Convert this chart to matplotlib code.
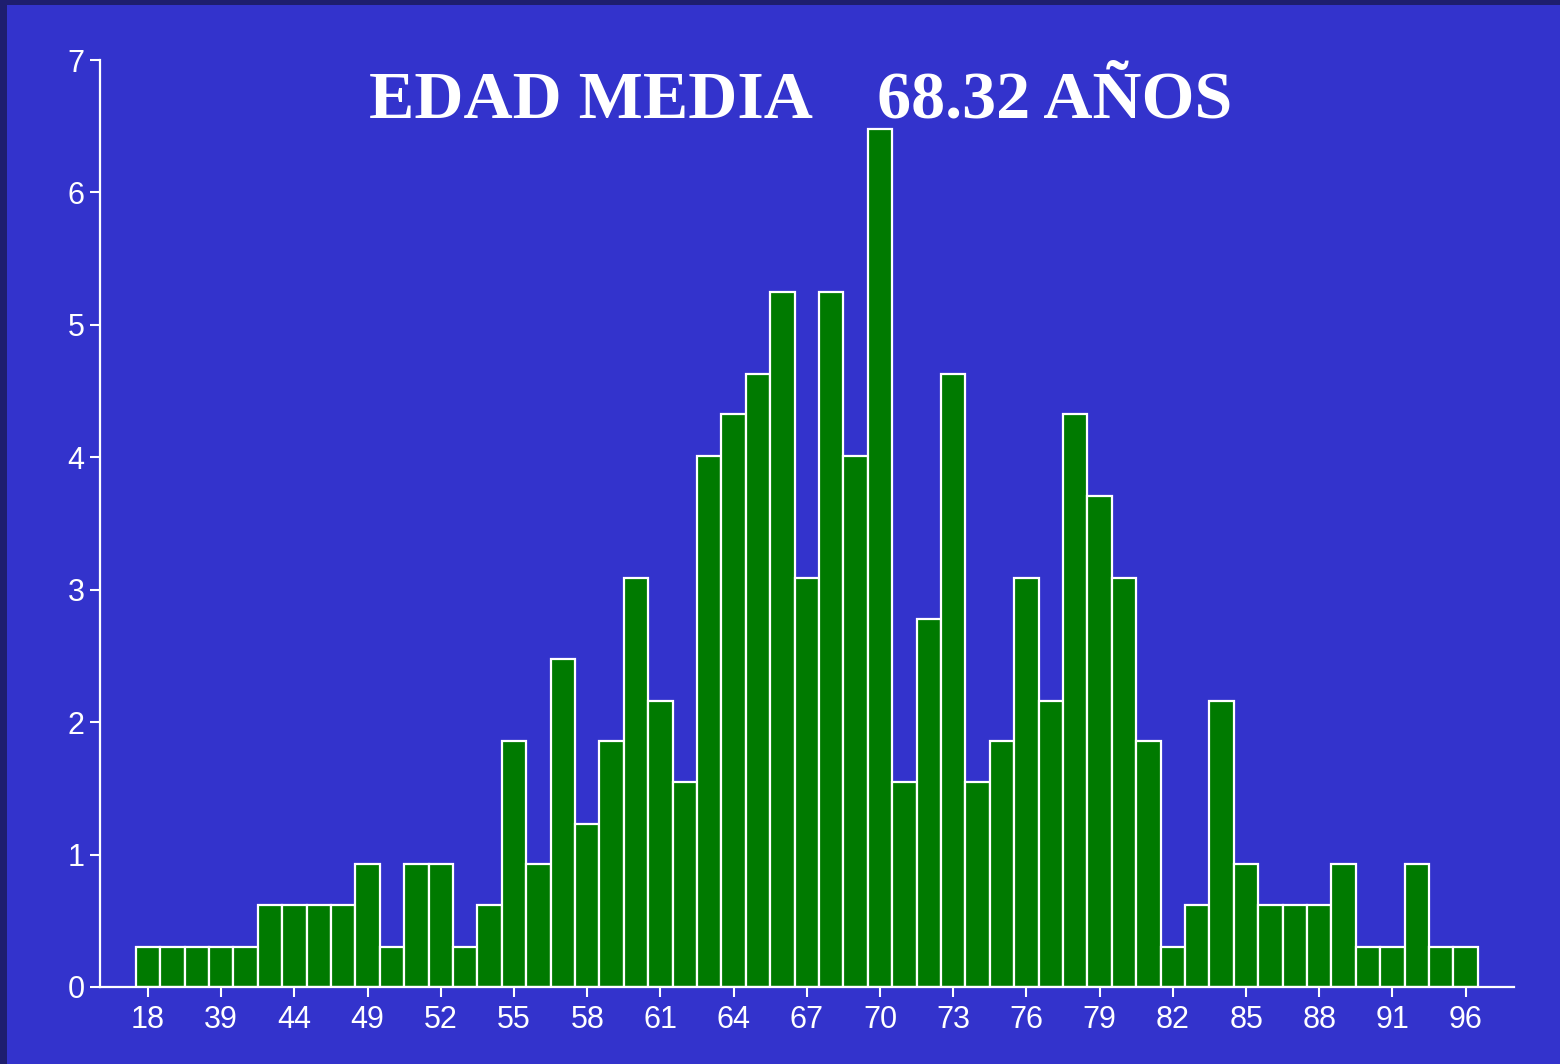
import matplotlib.pyplot as plt
from matplotlib.patches import Rectangle

# ages (only every third one is labelled on the axis)
edades = [18, 27, 34, 39, 41, 43, 44, 45, 47, 49, 50, 51, 52, 53, 54,
          55, 56, 57, 58, 59, 60, 61, 62, 63, 64, 65, 66, 67, 68, 69,
          70, 71, 72, 73, 74, 75, 76, 77, 78, 79, 80, 81, 82, 83, 84,
          85, 86, 87, 88, 89, 90, 91, 92, 93, 96]
# percentage of patients per age
porcentaje = [0.30, 0.30, 0.30, 0.30, 0.30, 0.62, 0.62, 0.62, 0.62, 0.93,
              0.30, 0.93, 0.93, 0.30, 0.62, 1.86, 0.93, 2.48, 1.23, 1.86,
              3.09, 2.16, 1.55, 4.01, 4.33, 4.63, 5.25, 3.09, 5.25, 4.01,
              6.48, 1.55, 2.78, 4.63, 1.55, 1.86, 3.09, 2.16, 4.33, 3.71,
              3.09, 1.86, 0.30, 0.62, 2.16, 0.93, 0.62, 0.62, 0.62, 0.93,
              0.30, 0.30, 0.93, 0.30, 0.30]
titulo = "EDAD MEDIA    68.32 AÑOS"

fondo = '#3333CC'
verde = '#007A00'

fig = plt.figure(figsize=(15.6, 10.64), dpi=100)
fig.patch.set_facecolor('#1E1E6E')
# blue slide area, leaving a thin dark strip at left and top
fig.patches.append(Rectangle((7 / 1560, 0), 1, 1 - 5 / 1064, transform=fig.transFigure,
                             facecolor=fondo, edgecolor='none', zorder=-10))

ax = fig.add_axes([100 / 1560, 1 - 987 / 1064, (1514 - 100) / 1560, (987 - 60) / 1064])
ax.set_facecolor('none')
ax.set_zorder(5)

x = list(range(len(edades)))
ax.bar(x, porcentaje, width=1.0, color=verde, edgecolor='white', linewidth=1.6)

ax.set_xlim(-1.97, 55.98)
ax.set_ylim(0, 7)
ax.set_xticks(x[::3])
ax.set_xticklabels([str(e) for e in edades[::3]])
ax.set_yticks(range(8))

for s in ['top', 'right']:
    ax.spines[s].set_visible(False)
for s in ['left', 'bottom']:
    ax.spines[s].set_color('white')
    ax.spines[s].set_linewidth(1.6)

ax.tick_params(colors='white', labelsize=22, length=7, width=1.5)
ax.tick_params(axis='x', pad=6)
ax.tick_params(axis='y', pad=4)
for lab in ax.get_xticklabels() + ax.get_yticklabels():
    lab.set_fontfamily('Liberation Sans')

fig.text(0.513, 1 - 118 / 1064, titulo, color='white', fontsize=49,
         fontweight='bold', family='Liberation Serif', ha='center', va='baseline',
         zorder=10)

fig.savefig('out.png', dpi=100, facecolor=fig.get_facecolor())
